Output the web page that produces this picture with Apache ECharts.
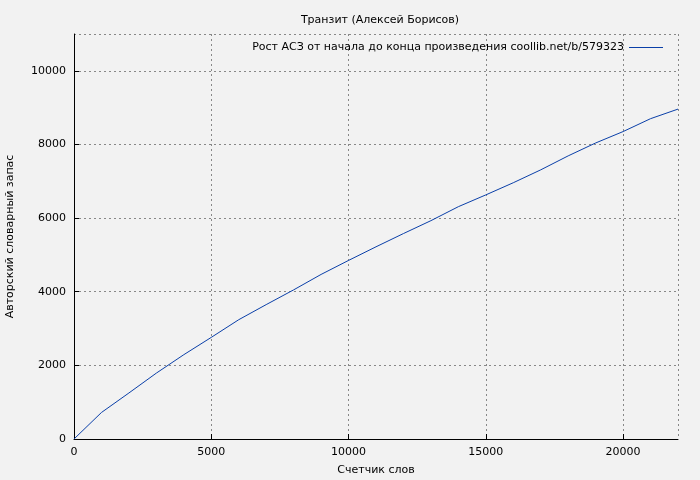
<!DOCTYPE html><html><head><meta charset="utf-8"><script src="https://cdn.jsdelivr.net/npm/echarts@6/dist/echarts.min.js"></script></head><body style="margin:0;background:#f2f2f2"><div id="c" style="width:700px;height:480px"></div><script>
const xs=[0,1000,2000,3000,4000,5000,6000,7000,8000,9000,10000,11000,12000,13000,14000,15000,16000,17000,18000,19000,20000,21000,22000];
const ys=[0,720,1250,1790,2290,2760,3240,3650,4050,4470,4850,5220,5580,5930,6310,6630,6960,7310,7690,8040,8350,8700,8960];
const title="Транзит (Алексей Борисов)";
const seriesName="Рост АСЗ от начала до конца произведения coollib.net/b/579323";
const ch=echarts.init(document.getElementById('c'));
const f={fontFamily:'DejaVu Sans',fontSize:11,color:'#000'};
ch.setOption({backgroundColor:'#f2f2f2',animation:false,
title:{text:title,left:375,textAlign:'center',top:10,textStyle:{...f,fontWeight:'normal'}},
legend:{right:32,top:37,icon:'path://M0,0H40V1H0Z',itemWidth:34,itemHeight:1,align:'right',textStyle:f,data:[seriesName]},
grid:{left:74,right:22,top:34,bottom:41,containLabel:false,outerBoundsMode:'none'},
xAxis:{type:'value',min:0,max:22000,interval:5000,name:'Счетчик слов',nameLocation:'middle',nameGap:26,nameTextStyle:f,
axisLine:{lineStyle:{color:'#000'}},axisTick:{inside:true,lineStyle:{color:'#000'}},axisLabel:{...f,showMaxLabel:false,formatter:v=>String(v)},
splitLine:{lineStyle:{color:'#888',type:[2,3]}}},
yAxis:{type:'value',min:0,max:11000,interval:2000,name:'Авторский словарный запас',nameLocation:'middle',nameGap:58,nameTextStyle:f,
axisLine:{show:true,lineStyle:{color:'#000'}},axisTick:{show:true,inside:true,lineStyle:{color:'#000'}},axisLabel:{...f,showMaxLabel:false,formatter:v=>String(v)},
splitLine:{lineStyle:{color:'#888',type:[2,3]}}},
series:[{name:seriesName,type:'line',data:xs.map((x,i)=>[x,ys[i]]),showSymbol:false,lineStyle:{color:'#0a3fa8',width:1},itemStyle:{color:'#0a3fa8'}}]});
</script></body></html>
